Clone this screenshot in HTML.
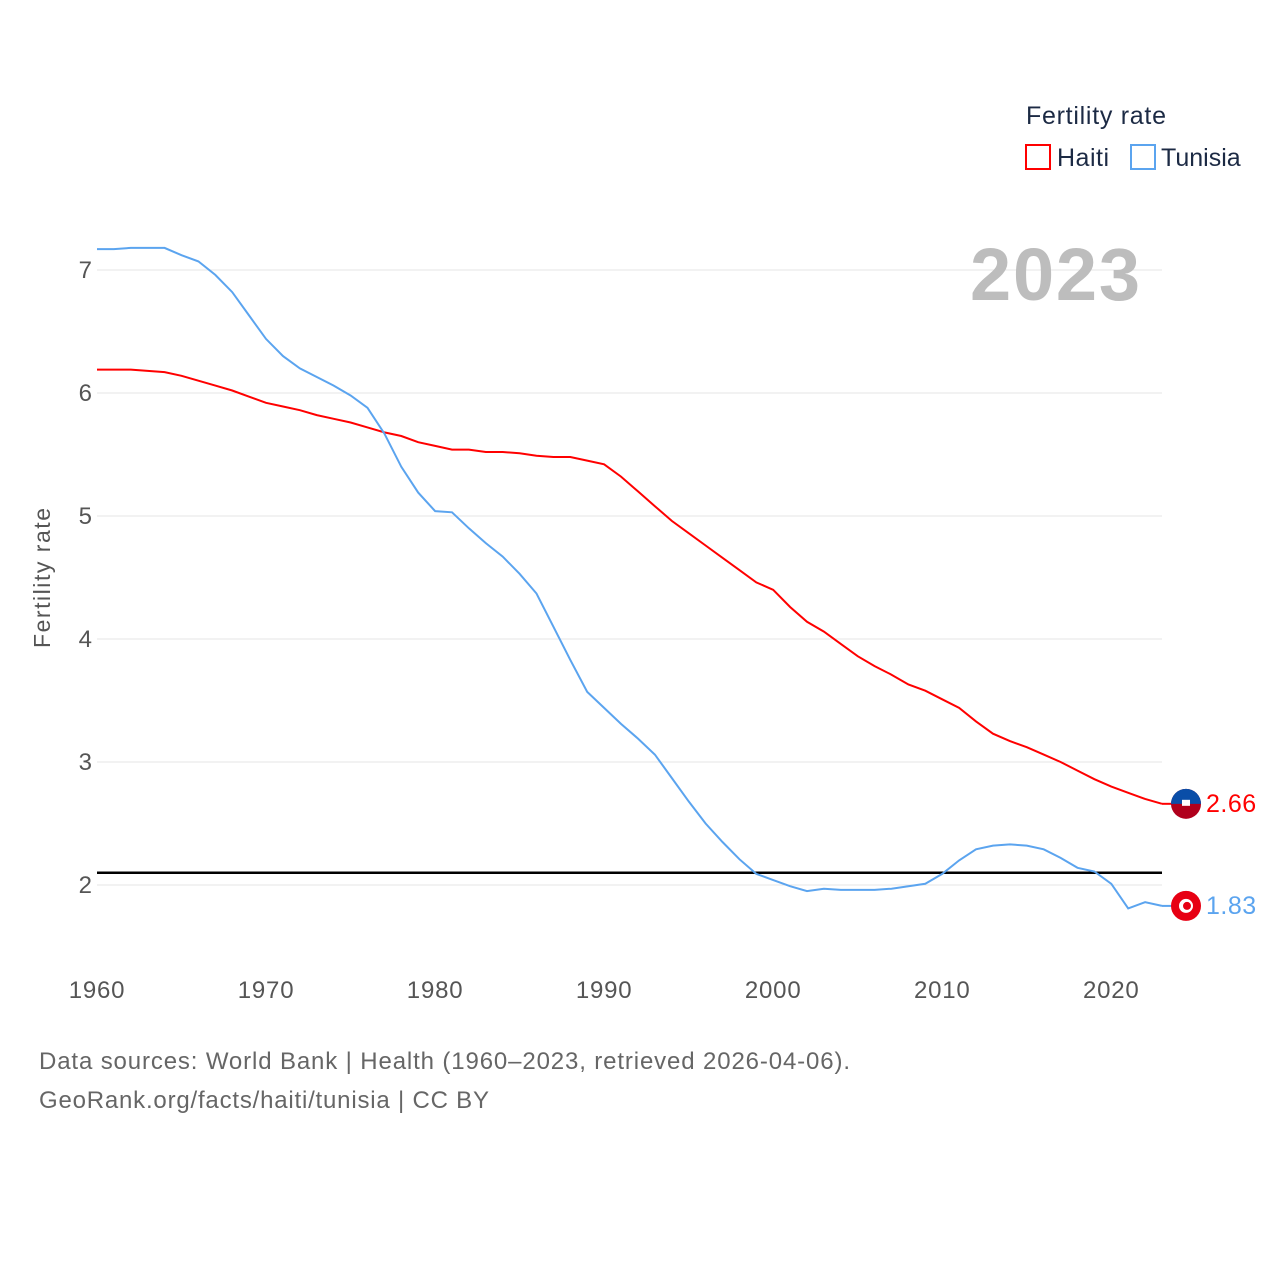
<!DOCTYPE html>
<html><head><meta charset="utf-8"><style>
html,body{margin:0;padding:0;background:#fff;}
svg{display:block;font-family:"Liberation Sans",Lato,sans-serif;}
</style></head><body>
<svg id="chart" width="1280" height="1280" viewBox="0 0 1280 1280">
<g id="grid"></g>
<g id="yt"></g>
<g id="xt"></g>
<text x="1140" y="300" text-anchor="end" font-size="74" font-weight="bold" fill="#bdbdbd" textLength="170">2023</text>
<text transform="translate(50,578) rotate(-90)" text-anchor="middle" font-size="23" fill="#555" textLength="140">Fertility rate</text>
<line id="ref" stroke="#000" stroke-width="2.5"/>
<path id="haiti" fill="none" stroke="#f00" stroke-width="2"/>
<path id="tunisia" fill="none" stroke="#5ba4ef" stroke-width="2"/>
<g>
<text x="1026" y="124" font-size="25" fill="#1c2a44" textLength="140">Fertility rate</text>
<rect x="1026" y="145" width="24" height="24" fill="none" stroke="#f00" stroke-width="2"/>
<text x="1057" y="166" font-size="25" fill="#1c2a44" letter-spacing="0.5">Haiti</text>
<rect x="1131" y="145" width="24" height="24" fill="none" stroke="#5ba4ef" stroke-width="2"/>
<text x="1161" y="166" font-size="25" fill="#1c2a44">Tunisia</text>
</g>
<g id="ends"></g>
<text x="39" y="1069" font-size="24" fill="#666" textLength="811">Data sources: World Bank | Health (1960–2023, retrieved 2026-04-06).</text>
<text x="39" y="1108" font-size="24" fill="#666" textLength="450">GeoRank.org/facts/haiti/tunisia | CC BY</text>
</svg>
<script>
const years=[];for(let y=1960;y<=2023;y++)years.push(y);
const haiti=[6.19,6.19,6.19,6.18,6.17,6.14,6.10,6.06,6.02,5.97,5.92,5.89,5.86,5.82,5.79,5.76,5.72,5.68,5.65,5.60,5.57,5.54,5.54,5.52,5.52,5.51,5.49,5.48,5.48,5.45,5.42,5.32,5.20,5.08,4.96,4.86,4.76,4.66,4.56,4.46,4.40,4.26,4.14,4.06,3.96,3.86,3.78,3.71,3.63,3.58,3.51,3.44,3.33,3.23,3.17,3.12,3.06,3.00,2.93,2.86,2.80,2.75,2.70,2.66];
const tunisia=[7.17,7.17,7.18,7.18,7.18,7.12,7.07,6.96,6.82,6.63,6.44,6.30,6.20,6.13,6.06,5.98,5.88,5.67,5.40,5.19,5.04,5.03,4.90,4.78,4.67,4.53,4.37,4.10,3.83,3.57,3.44,3.31,3.19,3.06,2.87,2.68,2.50,2.35,2.21,2.09,2.04,1.99,1.95,1.97,1.96,1.96,1.96,1.97,1.99,2.01,2.09,2.20,2.29,2.32,2.33,2.32,2.29,2.22,2.14,2.11,2.01,1.81,1.86,1.83];
const yTicks=[2,3,4,5,6,7];
const xTicks=[1960,1970,1980,1990,2000,2010,2020];
const refValue=2.1;
const x=v=>97+(v-1960)*(1162-97)/63;
const y=v=>885-(v-2)*123;
const NS="http://www.w3.org/2000/svg";
function mk(tag,parent,attrs){const e=document.createElementNS(NS,tag);for(const k in attrs)e.setAttribute(k,attrs[k]);parent.appendChild(e);return e;}
const grid=document.getElementById('grid'),yt=document.getElementById('yt'),xt=document.getElementById('xt');
yTicks.forEach(t=>{
 const l=mk('line',grid,{x1:97,x2:1162,y1:y(t),y2:y(t),stroke:'#e6e6e6','stroke-width':1});
 
 
 const tx=mk('text',yt,{x:92,y:y(t)+8,'text-anchor':'end','font-size':24,fill:'#555'});
 
 
 tx.textContent=t;
});
xTicks.forEach(t=>{
 const tx=mk('text',xt,{x:x(t),y:998,'text-anchor':'middle','font-size':24,fill:'#555','letter-spacing':'0.8'});
 
 
 tx.textContent=t;
});
const r=document.getElementById('ref');
r.setAttribute('x1',97);r.setAttribute('x2',1162);r.setAttribute('y1',y(refValue));r.setAttribute('y2',y(refValue));
const path=a=>a.map((v,i)=>(i?'L':'M')+x(years[i]).toFixed(1)+','+y(v).toFixed(1)).join('');
document.getElementById('haiti').setAttribute('d',path(haiti));
document.getElementById('tunisia').setAttribute('d',path(tunisia));
const ends=document.getElementById('ends');
[[haiti,'#f00','#0a4ea8','#b0001c'],[tunisia,'#5ba4ef','#e70013','#e70013']].forEach(([a,c,top,bot],k)=>{
 const v=a[a.length-1],cy=y(v),cx=1186;
 const ln=mk('line',ends,{x1:1162,x2:1172,y1:cy,y2:cy,stroke:c,'stroke-width':2});
 
 
 const g=mk('g',ends,{});
 
 
 mk('circle',g,{cx:cx,cy:cy,r:15,fill:bot});
 if(k===0){mk('path',g,{d:`M${cx-15},${cy} A15,15 0 0 1 ${cx+15},${cy} Z`,fill:top});mk('rect',g,{x:cx-4,y:cy-4,width:8,height:6,fill:'#fff'});}
 else{mk('circle',g,{cx:cx,cy:cy,r:7,fill:'#fff'});mk('circle',g,{cx:cx+1,cy:cy,r:4,fill:'#e70013'});}
 const t=mk('text',ends,{x:1206,y:cy+8,'font-size':25,fill:c,'letter-spacing':'0.5'});
 
 
 t.textContent=v.toFixed(2);
});
</script>
</body></html>
